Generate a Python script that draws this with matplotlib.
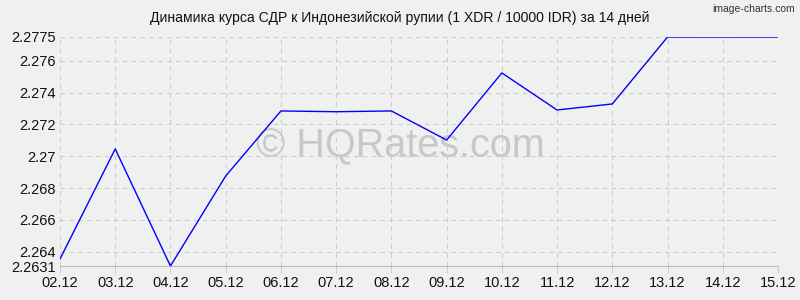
import matplotlib
matplotlib.use("Agg")
import matplotlib.pyplot as plt

# Data
dates = ["02.12", "03.12", "04.12", "05.12", "06.12", "07.12", "08.12",
         "09.12", "10.12", "11.12", "12.12", "13.12", "14.12", "15.12"]
rates = [2.26354, 2.27046, 2.2631, 2.26876, 2.27285, 2.2728, 2.27285,
         2.27102, 2.27524, 2.27291, 2.27329, 2.2775, 2.2775, 2.2775]
y_ticks = [2.2631, 2.264, 2.266, 2.268, 2.27, 2.272, 2.274, 2.276, 2.2775]
y_labels = ["2.2631", "2.264", "2.266", "2.268", "2.27", "2.272", "2.274", "2.276", "2.2775"]

plt.rcParams["font.family"] = ["Liberation Sans", "DejaVu Sans"]

bg = "#f0f0f0"
fig = plt.figure(figsize=(8, 3), dpi=100, facecolor=bg)
ax = fig.add_axes([0.075, 0.1133, 0.8975, 0.7634], facecolor=bg)

x = list(range(len(dates)))
ax.plot(x, rates, color="#0000ff", linewidth=1.0, zorder=3)

ax.set_xlim(0, len(dates) - 1)
ax.set_ylim(y_ticks[0], y_ticks[-1])
ax.set_xticks(x)
ax.set_xticklabels(dates)
ax.set_yticks(y_ticks)
ax.set_yticklabels(y_labels)

ax.grid(True, color="#cccccc", linestyle=(0, (4, 4)), linewidth=0.8)
ax.tick_params(axis="both", labelsize=10.5, colors="#cccccc", labelcolor="#111111",
               length=5, width=0.8)
ax.tick_params(axis="y", length=0, pad=3)
ax.tick_params(axis="x", pad=2)
for side in ["top", "right", "left"]:
    ax.spines[side].set_visible(False)
ax.spines["bottom"].set_color("#bbbbbb")
ax.spines["bottom"].set_linewidth(0.8)

# watermark, centred on the figure rather than the axes
ax.text(0.5, 0.512, "\u00a9 HQRates.com", transform=fig.transFigure, ha="center",
        va="center", fontsize=28.5, color="#c8c8c8", zorder=1)

fig.text(0.5, 0.94, "Динамика курса СДР к Индонезийской рупии (1 XDR / 10000 IDR) за 14 дней",
         ha="center", va="center", fontsize=10.1, color="#111111")
fig.text(0.993, 0.985, "image-charts.com", ha="right", va="top", fontsize=7.5,
         color="#333333")

fig.savefig("out.png", dpi=100, facecolor=bg)
